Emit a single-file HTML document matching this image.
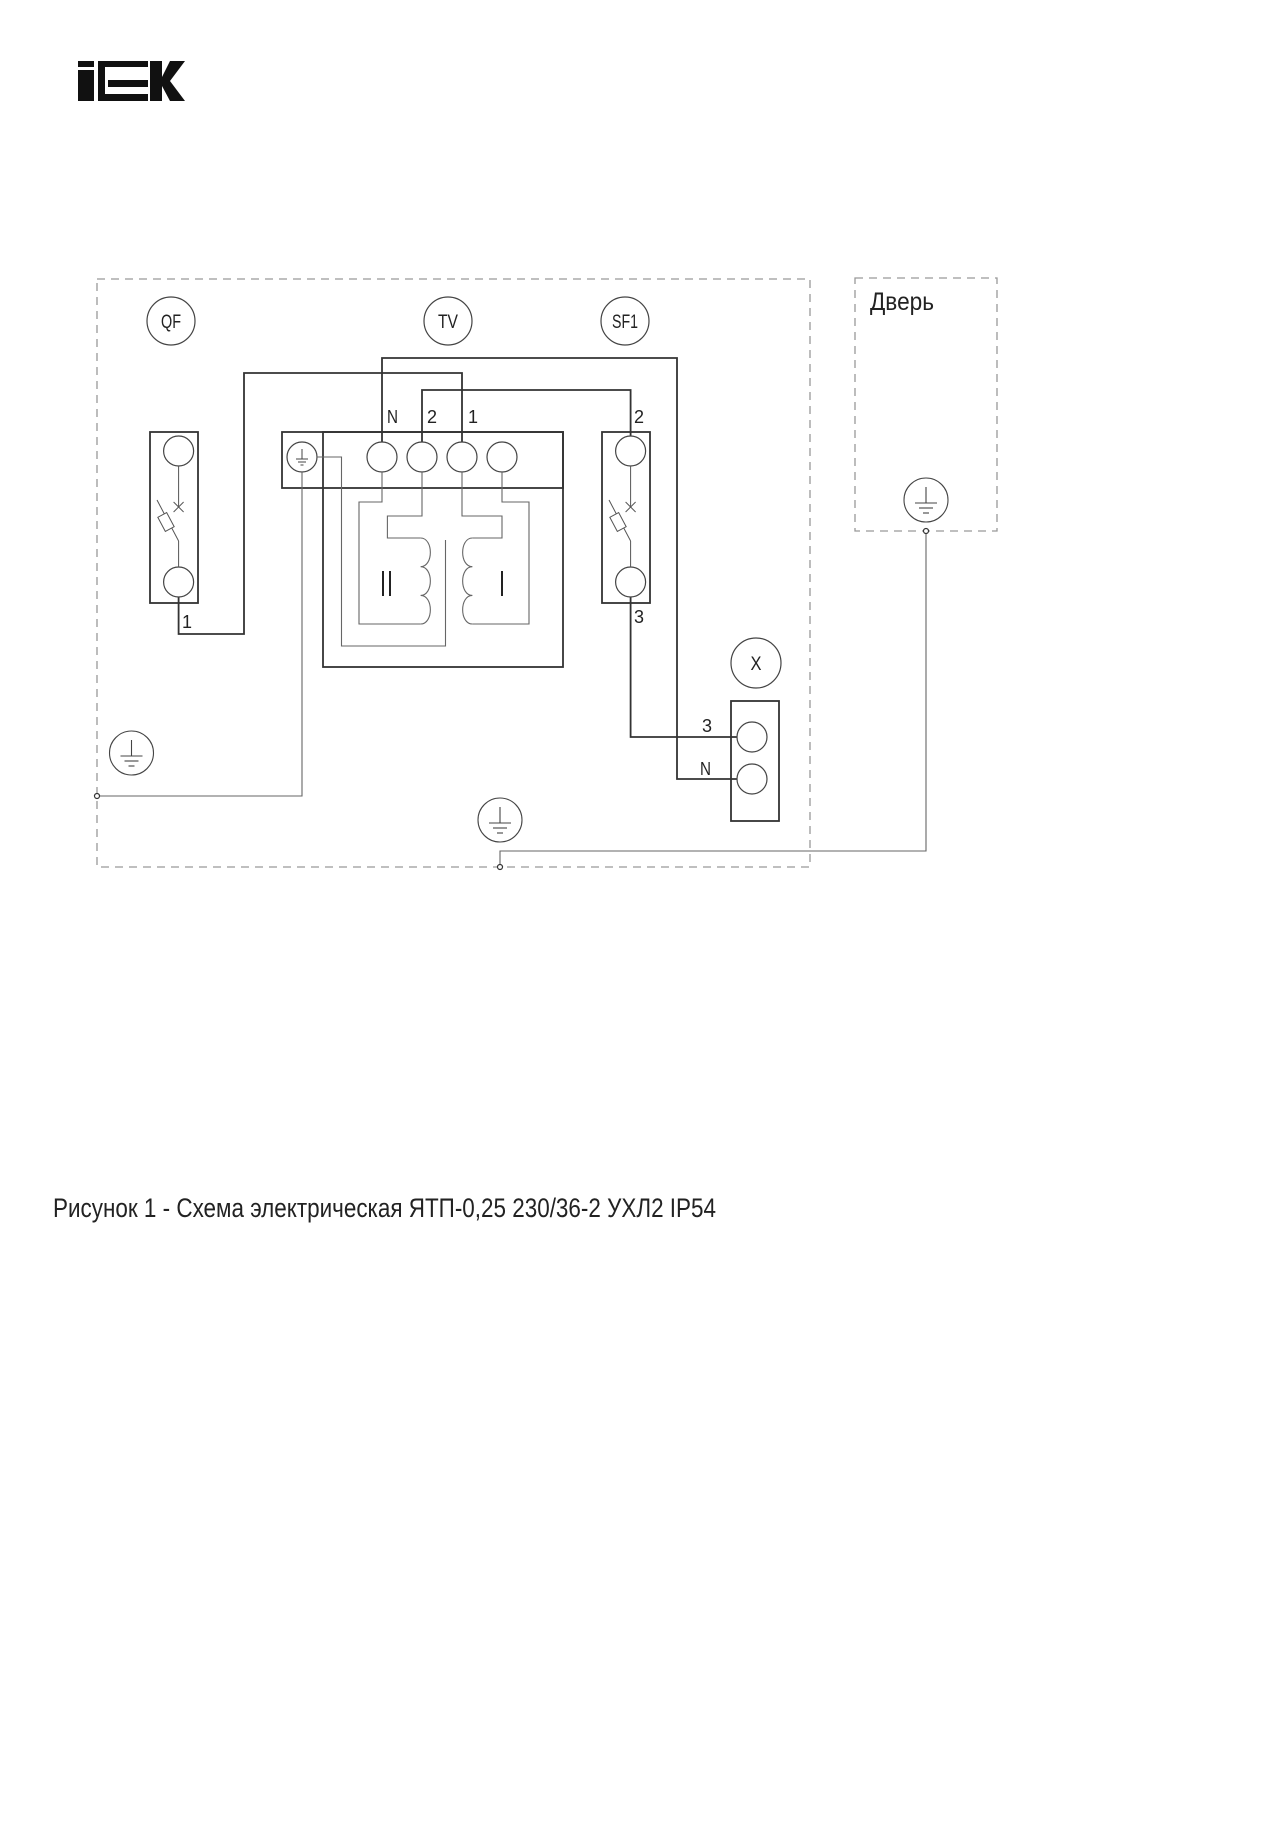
<!DOCTYPE html>
<html><head><meta charset="utf-8"><style>html,body{margin:0;padding:0;background:#fff}svg{display:block}</style></head>
<body>
<svg width="1280" height="1821" viewBox="0 0 1280 1821" xmlns="http://www.w3.org/2000/svg" font-family="Liberation Sans, sans-serif">
<defs>
<g id="earth" fill="none" stroke="#444" stroke-width="1.1"><circle cx="0" cy="0" r="22"/><line x1="0" y1="-13" x2="0" y2="3"/><line x1="-11" y1="3" x2="11" y2="3"/><line x1="-7" y1="8" x2="7" y2="8"/><line x1="-3" y1="13" x2="3" y2="13"/></g>
</defs>
<!-- logo -->
<g fill="#111">
<rect x="78" y="61" width="16" height="6"/>
<rect x="78" y="70" width="16" height="31"/>
<rect x="98" y="61" width="50" height="6"/>
<rect x="98" y="61" width="7" height="40"/>
<rect x="108" y="80" width="40" height="7"/>
<rect x="98" y="94" width="50" height="7"/>
<rect x="150" y="61" width="12" height="40"/>
<polygon points="162,77 170,61 185,61 170,81 185,101 170,101 162,86"/>
</g>
<!-- dashed boxes -->
<g fill="none" stroke="#999" stroke-width="1.3" stroke-dasharray="8,6">
<rect x="97" y="279" width="713" height="588"/>
<rect x="855" y="278" width="142" height="253"/>
</g>
<text x="870" y="310" font-size="25" fill="#222" textLength="64" lengthAdjust="spacingAndGlyphs">Дверь</text>
<!-- label circles -->
<g fill="none" stroke="#444" stroke-width="1.2">
<circle cx="171" cy="321" r="24"/><circle cx="448" cy="321" r="24"/><circle cx="625" cy="321" r="24"/><circle cx="756" cy="663" r="25"/>
</g>
<g font-size="19" fill="#222" text-anchor="middle">
<text x="171" y="328" textLength="20" lengthAdjust="spacingAndGlyphs">QF</text>
<text x="448" y="328" textLength="20" lengthAdjust="spacingAndGlyphs">TV</text>
<text x="625" y="328" textLength="26" lengthAdjust="spacingAndGlyphs">SF1</text>
<text x="756" y="670" textLength="11" lengthAdjust="spacingAndGlyphs">X</text>
</g>
<!-- main wires -->
<g fill="none" stroke="#333" stroke-width="1.8">
<rect x="150" y="432" width="48" height="171"/>
<rect x="602" y="432" width="48" height="171"/>
<rect x="282" y="432" width="281" height="56"/>
<rect x="323" y="432" width="240" height="235"/>
<rect x="731" y="701" width="48" height="120"/>
<polyline points="178.6,597 178.6,634 244,634 244,373 462,373 462,442"/>
<polyline points="382,442 382,358 677,358 677,779 737,779"/>
<polyline points="422,442 422,390 630.6,390 630.6,436"/>
<polyline points="630.6,597 630.6,737 737,737"/>
</g>
<g fill="none" stroke="#444" stroke-width="1.2">
<circle cx="178.6" cy="451" r="15"/><circle cx="178.6" cy="582" r="15"/>
<circle cx="630.6" cy="451" r="15"/><circle cx="630.6" cy="582" r="15"/>
<circle cx="302" cy="457" r="15"/>
<circle cx="382" cy="457" r="15"/><circle cx="422" cy="457" r="15"/><circle cx="462" cy="457" r="15"/><circle cx="502" cy="457" r="15"/>
<circle cx="752" cy="737" r="15"/><circle cx="752" cy="779" r="15"/>
</g>
<!-- breakers -->
<g fill="none" stroke="#555" stroke-width="1">
<g id="brk">
<line x1="178.6" y1="466" x2="178.6" y2="507"/>
<line x1="173.6" y1="502" x2="183.6" y2="512"/><line x1="183.6" y1="502" x2="173.6" y2="512"/>
<line x1="157" y1="500" x2="178.6" y2="541"/>
<line x1="178.6" y1="541" x2="178.6" y2="567"/>
<rect x="-5" y="-8" width="10" height="16" transform="translate(166,522) rotate(-28)" fill="#fff"/>
</g>
<use href="#brk" transform="translate(452,0)"/>
</g>
<!-- transformer inner wiring -->
<g fill="none" stroke="#666" stroke-width="1.1">
<polyline points="382,472 382,502 359,502 359,624 420.6,624"/>
<polyline points="422,472 422,516 387.4,516 387.4,538 420.6,538"/>
<path d="M420.6 538 c13 0 13 28.7 0 28.7 c13 0 13 28.7 0 28.7 c13 0 13 28.6 0 28.6"/>
<polyline points="462,472 462,516 502,516 502,538 472.4,538"/>
<path d="M472.4 538 c-13 0 -13 28.7 0 28.7 c-13 0 -13 28.7 0 28.7 c-13 0 -13 28.6 0 28.6"/>
<polyline points="472.4,624 529,624 529,502 502,502 502,472"/>
<polyline points="445.5,540 445.5,646 341.5,646 341.5,457 317,457"/>
<polyline points="302,472 302,796 97,796"/>
<polyline points="500,867 500,851 926,851 926,531"/>
</g>
<g fill="#fff" stroke="#333" stroke-width="1.2">
<circle cx="97" cy="796" r="2.5"/><circle cx="500" cy="867" r="2.5"/><circle cx="926" cy="531" r="2.5"/>
</g>
<g stroke="#222" stroke-width="2">
<line x1="383" y1="571" x2="383" y2="596"/><line x1="390" y1="571" x2="390" y2="596"/>
<line x1="502" y1="571" x2="502" y2="596"/>
</g>
<!-- earth symbols -->
<use href="#earth" transform="translate(131.5,753)"/>
<use href="#earth" transform="translate(500,820)"/>
<use href="#earth" transform="translate(926,500)"/>
<g fill="none" stroke="#444" stroke-width="1">
<line x1="302" y1="449" x2="302" y2="459"/><line x1="296" y1="459" x2="308" y2="459"/><line x1="298" y1="462" x2="306" y2="462"/><line x1="300.5" y1="465" x2="303.5" y2="465"/>
</g>
<!-- wire labels -->
<g font-size="18" fill="#222">
<text x="387" y="423" textLength="11" lengthAdjust="spacingAndGlyphs">N</text>
<text x="427" y="423">2</text>
<text x="468" y="423">1</text>
<text x="634" y="423">2</text>
<text x="182" y="628">1</text>
<text x="634" y="623">3</text>
<text x="702" y="732">3</text>
<text x="700" y="775" textLength="11" lengthAdjust="spacingAndGlyphs">N</text>
</g>
<text x="53" y="1217" font-size="27" fill="#222" textLength="663" lengthAdjust="spacingAndGlyphs">Рисунок 1 - Схема электрическая ЯТП-0,25 230/36-2 УХЛ2 IP54</text>
</svg>
</body></html>
